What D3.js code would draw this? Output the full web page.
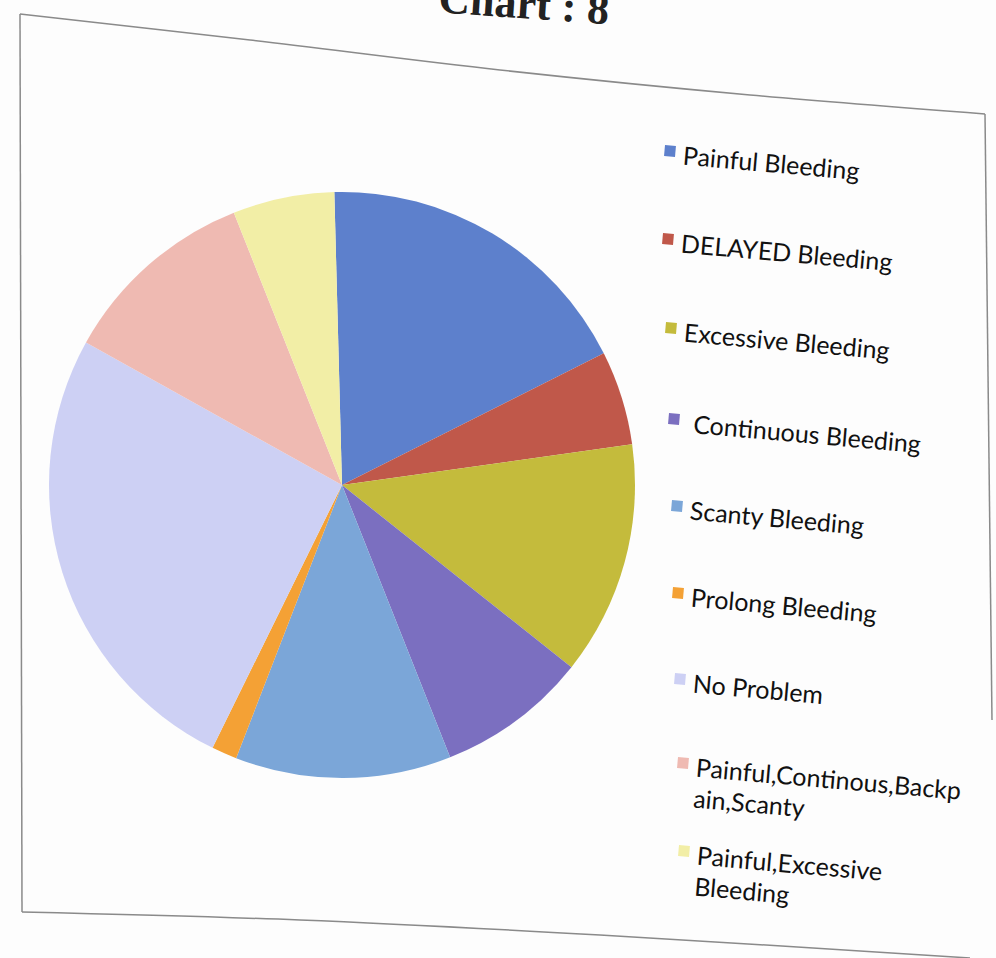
<!DOCTYPE html>
<html><head><meta charset="utf-8">
<script src="https://cdn.jsdelivr.net/npm/d3@7"></script>
<style>body{margin:0;background:#fff}svg{display:block}</style>
</head><body>
<svg id="c" width="996" height="958"></svg>
<script>
const categories = ["Painful Bleeding","DELAYED Bleeding","Excessive Bleeding","Continuous Bleeding","Scanty Bleeding","Prolong Bleeding","No Problem","Painful,Continous,Backpain,Scanty","Painful,Excessive Bleeding"];
const legendLines = [["Painful Bleeding"],["DELAYED Bleeding"],["Excessive Bleeding"],[" Continuous Bleeding"],["Scanty Bleeding"],["Prolong Bleeding"],["No Problem"],["Painful,Continous,Backp","ain,Scanty"],["Painful,Excessive","Bleeding"]];
const values = [18.0, 5.2, 12.9, 8.3, 11.9, 1.4, 25.8, 10.9, 5.6];
const colors = ["#5d80cc","#c0584a","#c4bb3c","#7b6fc0","#7ba6d8","#f4a135","#cdd0f4","#efbab2","#f2eea6"];

const svg = d3.select("#c");
svg.append("rect").attr("width",996).attr("height",958).attr("fill","#fdfdfd");

// title (partially cut off at top)
svg.append("text").attr("x",438).attr("y",18)
  .attr("transform","rotate(4,520,10)")
  .attr("font-family","Liberation Serif, serif").attr("font-weight","bold")
  .attr("font-size",44).attr("fill","#222").text("Chart : 8");

// frame (photographed, slightly skewed)
const frame = d3.line().curve(d3.curveCatmullRom)([[20,14],[250,40],[500,70],[750,95],[985,114]]);
svg.append("path").attr("d",frame).attr("fill","none").attr("stroke","#8a8a8a").attr("stroke-width",1.5);
svg.append("path").attr("d",d3.line()([[20,14],[22,912]])).attr("stroke","#8a8a8a").attr("stroke-width",1.5);
svg.append("path").attr("d",d3.line().curve(d3.curveCatmullRom)([[22,912],[300,920],[600,935],[970,958]])).attr("fill","none").attr("stroke","#8a8a8a").attr("stroke-width",1.5);
svg.append("path").attr("d",d3.line()([[985,114],[992,720]])).attr("stroke","#8a8a8a").attr("stroke-width",1.5);

// pie
const cx = 342, cy = 485, r = 293;
const start = -1.5*Math.PI/180;
const pie = d3.pie().sort(null).value(d=>d).startAngle(start).endAngle(start+2*Math.PI);
const arc = d3.arc().innerRadius(0).outerRadius(r);
const g = svg.append("g").attr("transform",`translate(${cx},${cy})`);
g.selectAll("path").data(pie(values)).join("path")
  .attr("d",arc).attr("fill",(d,i)=>colors[i]);

// legend
const legX = [665,663,666,669,672,673,675,678,679];
const legY = [145,233,322,413,500,587,673,757,845];
const lg = svg.append("g");
categories.forEach((c,i)=>{
  const it = lg.append("g").attr("transform",`translate(${legX[i]},${legY[i]}) rotate(5)`);
  it.append("rect").attr("x",0).attr("y",0).attr("width",11).attr("height",11).attr("fill",colors[i]);
  legendLines[i].forEach((t,j)=>{
    it.append("text").attr("x",19).attr("y",18+j*31)
      .attr("font-family","Lato, 'Open Sans', sans-serif").attr("font-size",25)
      .attr("fill","#111").attr("xml:space","preserve").text(t);
  });
});
</script>
</body></html>
